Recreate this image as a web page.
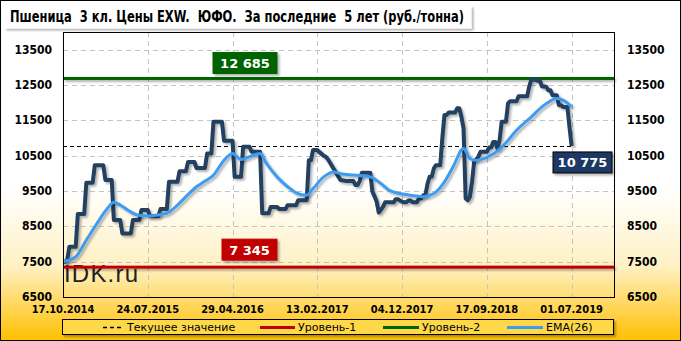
<!DOCTYPE html>
<html>
<head>
<meta charset="utf-8">
<script src="https://cdn.jsdelivr.net/npm/d3@7"></script>
<style>
  body { margin: 0; }
</style>
</head>
<body>
<div id="chart"></div>
<script>
// tick labels on the x axis, one every 40 points
const tickLabels = ['17.10.2014', '24.07.2015', '29.04.2016', '13.02.2017', '04.12.2017', '17.09.2018', '01.07.2019']
const tickStep = 40

const yTicks = [6500, 7500, 8500, 9500, 10500, 11500, 12500, 13500]

// weekly prices, rub/t
const prices = [
  7500, 7500, 7550, 7920, 7920, 7920, 7920, 8850, 8850, 8850,
  8850, 9730, 9730, 9730, 9730, 10230, 10230, 10230, 10230, 10230,
  9810, 9810, 9810, 9810, 8680, 8680, 8680, 8680, 8300, 8300,
  8300, 8300, 8300, 8680, 8680, 8680, 8680, 8960, 8960, 8960,
  8960, 8790, 8790, 8790, 8790, 8790, 8990, 8990, 8990, 8990,
  9760, 9760, 9760, 9760, 9760, 10060, 10060, 10060, 10060, 10320,
  10320, 10320, 10320, 10150, 10150, 10150, 10150, 10150, 10560, 10560,
  10560, 11460, 11460, 11460, 11460, 11460, 10920, 10920, 10920, 10920,
  10920, 9900, 9900, 9900, 9900, 10750, 10750, 10750, 10750, 10610,
  10610, 10610, 10610, 10610, 8870, 8870, 8870, 8870, 9050, 9050,
  9050, 9050, 8990, 8990, 8990, 8990, 9100, 9100, 9100, 9100,
  9100, 9240, 9240, 9240, 9240, 9240, 10370, 10370, 10660, 10660,
  10660, 10600, 10550, 10500, 10470, 10400, 10300, 10200, 10100, 10000,
  9900, 9810, 9800, 9790, 9780, 9780, 9780, 9780, 9670, 9670,
  9780, 10020, 10020, 10020, 10020, 10020, 9480, 9350, 9200, 8890,
  8970, 9050, 9180, 9180, 9180, 9180, 9180, 9270, 9270, 9230,
  9200, 9180, 9180, 9230, 9230, 9180, 9180, 9180, 9290, 9290,
  9380, 9380, 9710, 9900, 9900, 10140, 10230, 10230, 10230, 11000,
  11650, 11650, 11720, 11720, 11720, 11720, 11840, 11840, 11600, 11270,
  9290, 9240, 9340, 9760, 10320, 10400, 10470, 10610, 10610, 10610,
  10610, 10730, 10730, 10890, 10890, 10700, 10940, 11460, 11460, 11460,
  11980, 12040, 12040, 12040, 12040, 12180, 12180, 12180, 12180, 12180,
  12460, 12650, 12650, 12650, 12620, 12620, 12460, 12460, 12450, 12350,
  12350, 12210, 12210, 12210, 11930, 11930, 11880, 11880, 11880, 11300,
  10775
]

// EMA(26) at some points
const emaIdx = [0, 6, 11, 16, 21, 24, 27, 32, 35, 40, 44, 49, 54, 58, 63, 67, 71, 76, 80, 84, 88, 93, 96, 101, 106, 110, 115, 118, 123, 128, 131, 137, 145, 150, 154, 162, 170, 175, 180, 184, 189, 192, 195, 202, 208, 214, 221, 227, 233, 236, 240]
const emaVals = [7500, 7640, 8110, 8580, 9010, 9180, 9100, 8910, 8820, 8790, 8820, 8870, 9100, 9340, 9620, 9780, 9950, 10370, 10560, 10390, 10470, 10560, 10280, 9900, 9620, 9450, 9380, 9570, 9900, 10040, 9990, 9950, 9900, 9710, 9520, 9400, 9340, 9430, 9760, 10180, 10700, 10420, 10370, 10510, 10800, 11220, 11600, 11930, 12120, 12070, 11880]

const currentValue = 10775
const level1 = 7345
const level2 = 12685

const W = 681
const H = 341
const plot = { left: 63, right: 614, top: 32, bottom: 297 }

const svg = d3
  .select('#chart')
  .append('svg')
  .attr('width', W)
  .attr('height', H)

const defs = svg.append('defs')

const grad = defs
  .append('linearGradient')
  .attr('id', 'bg')
  .attr('x1', 0)
  .attr('y1', 0)
  .attr('x2', 0)
  .attr('y2', 1)
grad.append('stop').attr('offset', '0%').attr('stop-color', '#ffffff')
grad.append('stop').attr('offset', '55%').attr('stop-color', '#ffffff')
grad.append('stop').attr('offset', '78%').attr('stop-color', '#fff1c4')
grad.append('stop').attr('offset', '100%').attr('stop-color', '#ffc000')

// shadow filter in user space so flat shapes keep it
defs
  .append('filter')
  .attr('id', 'shadow')
  .attr('filterUnits', 'userSpaceOnUse')
  .attr('x', 0)
  .attr('y', 0)
  .attr('width', W)
  .attr('height', H)
  .append('feDropShadow')
  .attr('dx', 2)
  .attr('dy', 2)
  .attr('stdDeviation', 1.2)
  .attr('flood-color', '#000')
  .attr('flood-opacity', 0.3)

// background
svg
  .append('rect')
  .attr('x', 0.5)
  .attr('y', 0.5)
  .attr('width', W - 1)
  .attr('height', H - 1)
  .attr('fill', 'url(#bg)')
  .attr('stroke', '#000')

// scales
const xScale = d3
  .scaleLinear()
  .domain([0, 260])
  .range([plot.left, plot.right])

const yScale = d3
  .scaleLinear()
  .domain([6500, 14000])
  .range([plot.bottom, plot.top])

// grid
svg
  .selectAll('.hgrid')
  .data(yTicks.slice(1))
  .enter()
  .append('line')
  .attr('class', 'hgrid')
  .attr('x1', plot.left)
  .attr('x2', plot.right)
  .attr('y1', d => Math.round(yScale(d)) + 0.5)
  .attr('y2', d => Math.round(yScale(d)) + 0.5)
  .attr('stroke', '#c4c4c4')
  .attr('stroke-dasharray', '5,4')

svg
  .selectAll('.vgrid')
  .data(tickLabels.slice(1))
  .enter()
  .append('line')
  .attr('class', 'vgrid')
  .attr('x1', (d, i) => Math.round(xScale((i + 1) * tickStep)) + 0.5)
  .attr('x2', (d, i) => Math.round(xScale((i + 1) * tickStep)) + 0.5)
  .attr('y1', plot.top)
  .attr('y2', plot.bottom)
  .attr('stroke', '#c4c4c4')
  .attr('stroke-dasharray', '5,4')

// axis labels
const labelFont = "'DejaVu Sans Condensed', 'DejaVu Sans', sans-serif"

yTicks.forEach(v => {
  svg
    .append('text')
    .text(v)
    .attr('x', 52)
    .attr('y', yScale(v))
    .attr('text-anchor', 'end')
    .attr('dominant-baseline', 'central')
    .attr('font-family', labelFont)
    .attr('font-weight', 'bold')
    .attr('font-size', 12)
  svg
    .append('text')
    .text(v)
    .attr('x', 627)
    .attr('y', yScale(v))
    .attr('dominant-baseline', 'central')
    .attr('font-family', labelFont)
    .attr('font-weight', 'bold')
    .attr('font-size', 12)
})

svg
  .selectAll('.date-label')
  .data(tickLabels)
  .enter()
  .append('text')
  .attr('class', 'date-label')
  .text(d => d)
  .attr('x', (d, i) => xScale(i * tickStep))
  .attr('y', 313)
  .attr('text-anchor', 'middle')
  .attr('font-family', labelFont)
  .attr('font-weight', 'bold')
  .attr('font-size', 11)

// watermark
svg
  .append('text')
  .text('IDK.ru')
  .attr('x', 64)
  .attr('y', 282)
  .attr('font-family', "'Liberation Sans', Arial, sans-serif")
  .attr('font-size', 24)
  .attr('letter-spacing', 1.2)
  .attr('fill', '#222')

// level lines
const levels = [
  { value: level2, color: '#006400' },
  { value: level1, color: '#c00000' }
]
levels.forEach(l => {
  svg
    .append('rect')
    .attr('x', plot.left)
    .attr('width', plot.right - plot.left)
    .attr('y', yScale(l.value) - 1.5)
    .attr('height', 3)
    .attr('fill', l.color)
    .attr('filter', 'url(#shadow)')
})

// current value dashed line
svg
  .append('line')
  .attr('x1', plot.left)
  .attr('x2', xScale(prices.length - 1))
  .attr('y1', Math.round(yScale(currentValue)) + 0.5)
  .attr('y2', Math.round(yScale(currentValue)) + 0.5)
  .attr('stroke', '#000')
  .attr('stroke-dasharray', '4,3')

// price line
const line = d3
  .line()
  .x((d, i) => xScale(i))
  .y(d => yScale(d))

svg
  .append('path')
  .datum(prices)
  .attr('d', line)
  .attr('fill', 'none')
  .attr('stroke', '#243f60')
  .attr('stroke-width', 4)
  .attr('stroke-linejoin', 'round')
  .attr('filter', 'url(#shadow)')

// ema line
const emaLine = d3
  .line()
  .x(d => xScale(d[0]))
  .y(d => yScale(d[1]))
  .curve(d3.curveMonotoneX)

svg
  .append('path')
  .datum(d3.zip(emaIdx, emaVals))
  .attr('d', emaLine)
  .attr('fill', 'none')
  .attr('stroke', '#3d9cf2')
  .attr('stroke-width', 3)
  .attr('filter', 'url(#shadow)')

// value badges
function badge(text, x0, x1, y0, fill, border) {
  const g = svg.append('g')
  g.append('rect')
    .attr('x', x0)
    .attr('y', y0)
    .attr('width', x1 - x0)
    .attr('height', 21)
    .attr('fill', fill)
    .attr('stroke', border)
    .attr('stroke-width', 1)
    .attr('filter', 'url(#shadow)')
  g.append('text')
    .text(text)
    .attr('x', (x0 + x1) / 2)
    .attr('y', y0 + 11)
    .attr('text-anchor', 'middle')
    .attr('dominant-baseline', 'central')
    .attr('fill', '#fff')
    .attr('font-family', "'DejaVu Sans', sans-serif")
    .attr('font-weight', 'bold')
    .attr('font-size', 13)
}

const fmt = v => d3.format(',')(v).replace(',', ' ')
badge(fmt(level2), 213, 277, yScale(level2) - 26, '#006400', '#006400')
badge(fmt(level1), 222, 277, yScale(level1) - 28, '#c00000', '#c00000')
badge(fmt(currentValue), 553, 612, yScale(currentValue) + 6, '#1f3864', '#000')

// plot frame
svg
  .append('rect')
  .attr('x', plot.left + 0.5)
  .attr('y', plot.top + 0.5)
  .attr('width', plot.right - plot.left)
  .attr('height', plot.bottom - plot.top)
  .attr('fill', 'none')
  .attr('stroke', '#000')

// title
svg
  .append('rect')
  .attr('x', 4.5)
  .attr('y', 5.5)
  .attr('width', 467)
  .attr('height', 23)
  .attr('fill', '#fff')
  .attr('filter', 'url(#shadow)')

svg
  .append('text')
  .text('Пшеница  3 кл. Цены EXW.  ЮФО.  За последние  5 лет (руб./тонна)')
  .attr('x', 10)
  .attr('y', 22)
  .attr('textLength', 454)
  .attr('lengthAdjust', 'spacingAndGlyphs')
  .style('white-space', 'pre')
  .attr('font-family', "'Liberation Sans Narrow', 'DejaVu Sans Condensed', sans-serif")
  .attr('font-weight', 'bold')
  .attr('font-size', 15)

// legend
const legend = svg.append('g')
legend
  .append('rect')
  .attr('x', 62.5)
  .attr('y', 319.5)
  .attr('width', 551)
  .attr('height', 15)
  .attr('fill', '#ffd84a')
  .attr('stroke', '#000')
  .attr('filter', 'url(#shadow)')

const legendItems = [
  { label: 'Текущее значение', color: '#000', dash: '4,3', x0: 103, x1: 121, w: 1.5 },
  { label: 'Уровень-1', color: '#c00000', dash: null, x0: 260, x1: 295, w: 3 },
  { label: 'Уровень-2', color: '#006400', dash: null, x0: 383, x1: 419, w: 3 },
  { label: 'EMA(26)', color: '#3d9cf2', dash: null, x0: 507, x1: 543, w: 3 }
]

legendItems.forEach(d => {
  legend
    .append('line')
    .attr('x1', d.x0)
    .attr('x2', d.x1)
    .attr('y1', 327.5)
    .attr('y2', 327.5)
    .attr('stroke', d.color)
    .attr('stroke-width', d.w)
    .attr('stroke-dasharray', d.dash)
  legend
    .append('text')
    .text(d.label)
    .attr('x', d.x1 + (d.dash ? 6 : 3))
    .attr('y', 327.5)
    .attr('dominant-baseline', 'central')
    .attr('font-family', "'DejaVu Sans', sans-serif")
    .attr('font-size', 11)
})
</script>
</body>
</html>
